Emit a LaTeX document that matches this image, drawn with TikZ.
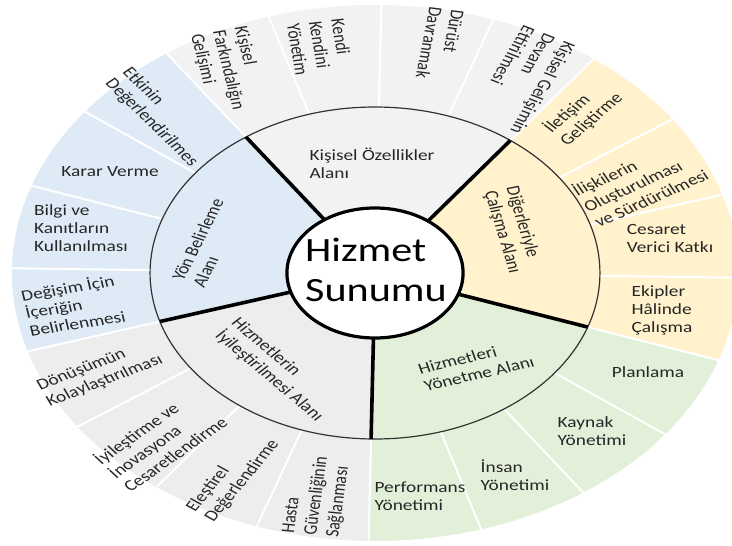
\documentclass[tikz,border=0pt]{standalone}
\usepackage{fontspec}
\setmainfont{Carlito}
\definecolor{cyel}{HTML}{FFF2CC}
\definecolor{cgrt}{HTML}{F2F2F2}
\definecolor{cblu}{HTML}{DEEBF7}
\definecolor{cgrb}{HTML}{EDEDED}
\definecolor{cgrn}{HTML}{E2F0D9}
\tikzset{
  lbl/.style={font=\fontsize{15.6}{18}\selectfont, align=left, inner sep=0pt, text=black!85},
  bigl/.style={font=\fontsize{34}{40}\selectfont, align=left, inner sep=0pt, text=black},
  sepw/.style={white, line width=2pt},
  sepb/.style={black, line width=3.6pt},
}
% label stretched horizontally like the reference; #3 = apparent angle
\newcommand{\plab}[5][lbl]{%
  \pgfmathsetmacro\rr{atan2(1.24*sin(#4),cos(#4))}%
  \begin{scope}[shift={#3}, xscale=1.24]
    \node[#1, rotate=\rr, transform shape] (#2) at (0,0) {#5};
  \end{scope}}
\begin{document}
\begin{tikzpicture}[x=1pt,y=-1pt]
\useasboundingbox (0,0) rectangle (732,546);
\clip (0,0) rectangle (732,546);
\fill[white] (0,0) rectangle (732,546);
\def\Ri{65}\def\Rm{166}\def\Ro{268}
\begin{scope}[shift={(375,273)}, xscale=1.355, yscale=-1]
  % outer ring segments
  \foreach \k/\c in {0/cyel,1/cyel,2/cyel,3/cyel,4/cgrt,5/cgrt,6/cgrt,7/cgrt,8/cblu,9/cblu,10/cblu,11/cblu,12/cgrb,13/cgrb,14/cgrb,15/cgrb,16/cgrn,17/cgrn,18/cgrn,19/cgrn}{
    \pgfmathsetmacro\a{-19+18*\k}
    \pgfmathsetmacro\b{\a+18}
    \fill[\c] (\a:\Rm) -- (\a:\Ro) arc[start angle=\a, end angle=\b, radius=\Ro] -- (\b:\Rm) arc[start angle=\b, end angle=\a, radius=\Rm] -- cycle;
  }
  \foreach \k in {0,...,19}{
    \pgfmathsetmacro\a{-19+18*\k}
    \draw[sepw] (\a:\Rm) -- (\a:\Ro+6);
  }
  % middle sectors
  \foreach \k/\c in {0/cyel,1/cgrt,2/cblu,3/cgrb,4/cgrn}{
    \pgfmathsetmacro\a{-19+72*\k}
    \pgfmathsetmacro\b{\a+72}
    \fill[\c] (0,0) -- (\a:\Rm) arc[start angle=\a, end angle=\b, radius=\Rm] -- cycle;
  }
  \draw[black!80, line width=1.2pt] (0,0) circle[radius=\Rm];
  \foreach \a in {-19,53,125,197,269}{
    \draw[sepb] (\a:\Ri) -- (\a:\Rm);
  }
  \fill[white] (0,0) circle[radius=\Ri];
  \draw[black, line width=3.2pt] (0,0) circle[radius=\Ri];
\end{scope}
% centre
\plab[bigl]{hs}{(376,270)}{0}{Hizmet\\Sunumu}
% middle ring labels
\plab{m1}{(372,163)}{0}{Kişisel Özellikler\\Alanı}
\plab{m2}{(513,230)}{-73}{Diğerleriyle\\Çalışma Alanı}
\plab{m3}{(476,365)}{13}{Hizmetleri\\Yönetme Alanı}
\plab{m4}{(277,370)}{-40}{Hizmetlerin\\İyileştirilmesi Alanı}
\plab{m5}{(208,243)}{63}{Yön Belirleme\\Alanı}
% outer ring labels
\plab{o1}{(228,70)}{-75.5}{Kişisel\\Farkındalığın\\Gelişimi}
\plab{o2}{(320,47)}{-80}{Kendi\\Kendini\\Yönetim}
\plab{o3}{(440,44)}{-101}{Dürüst\\Davranmak}
\plab{o4}{(523,80)}{-121}{Kişisel Gelişimin\\Devam\\Ettirilmesi}
\plab{o5}{(583,113)}{40}{İletişim\\Geliştirme}
\plab{o6}{(640,182)}{24}{İlişkilerin\\Oluşturulması\\ve Sürdürülmesi}
\plab{o7}{(670,238)}{0}{Cesaret\\Verici Katkı}
\plab{o8}{(662,310)}{0}{Ekipler\\Hâlinde\\Çalışma}
\plab{o9}{(648,372)}{0}{Planlama}
\plab{o10}{(592,431)}{0}{Kaynak\\Yönetimi}
\plab{o11}{(515,475)}{0}{İnsan\\Yönetimi}
\plab{o12}{(420,496)}{0}{Performans\\Yönetimi}
\plab{o13}{(317,496)}{82}{Hasta\\Güvenliğinin\\Sağlanması}
\plab{o14}{(233,476)}{50}{Eleştirel\\Değerlendirme}
\plab{o15}{(160,440)}{35}{İyileştirme ve\\İnovasyona\\Cesaretlendirme}
\plab{o16}{(100,373)}{21}{Dönüşümün\\Kolaylaştırılması}
\plab{o17}{(73,305)}{9}{Değişim İçin\\İçeriğin\\Belirlenmesi}
\plab{o18}{(81,228)}{0}{Bilgi ve\\Kanıtların\\Kullanılması}
\plab{o19}{(110,172)}{0}{Karar Verme}
\plab{o20}{(160,117)}{-44}{Etkinin\\Değerlendirilmes}
\end{tikzpicture}
\end{document}
